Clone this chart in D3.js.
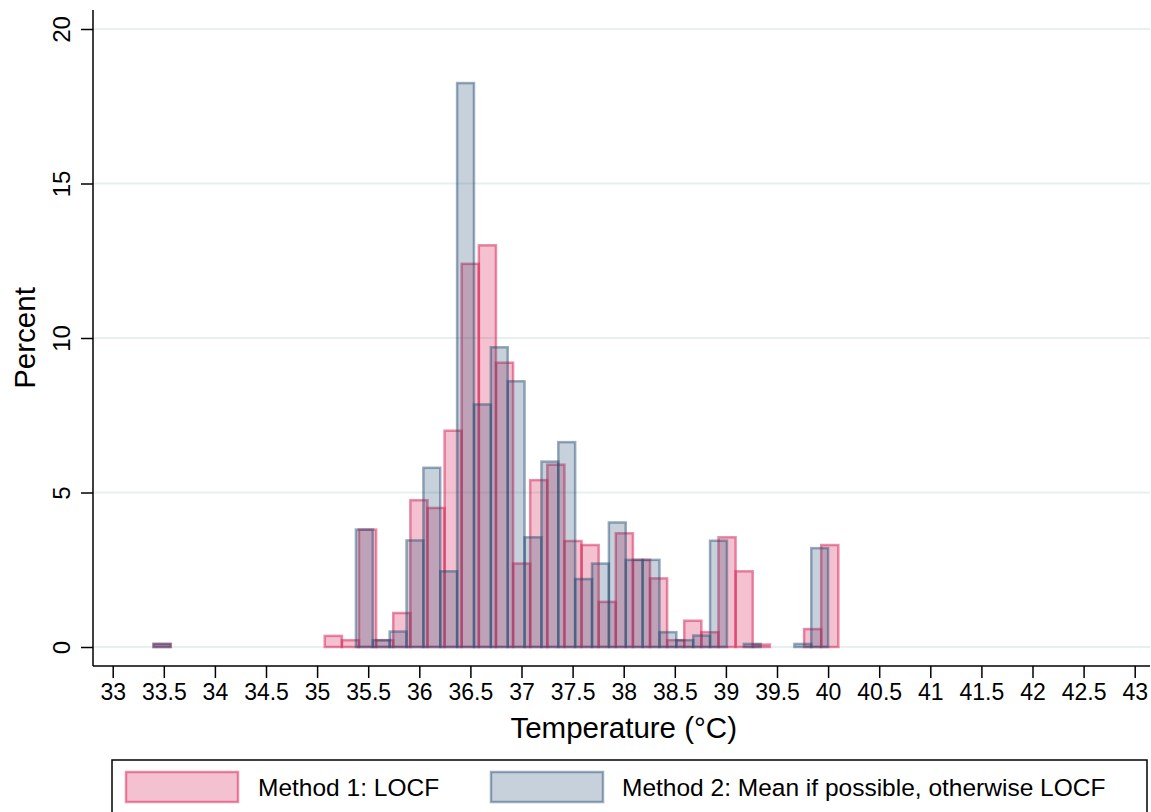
<!DOCTYPE html>
<html>
<head>
<meta charset="utf-8">
<script src="https://cdn.jsdelivr.net/npm/d3@7"></script>
<style>
  html, body { margin: 0; padding: 0; background: #fff; }
  svg { display: block; font-family: "Liberation Sans", Arial, Helvetica, sans-serif; }
</style>
</head>
<body>
<svg id="chart" width="1151" height="812"></svg>
<script>
// ---- data ----
const seriesNames = ["Method 1: LOCF", "Method 2: Mean if possible, otherwise LOCF"];
const binStart = 33.4;
const method1BinWidth = 0.1675;
const method2BinWidth = 0.165;
const method1Percent = [0.1, 0, 0, 0, 0, 0, 0, 0, 0, 0,
  0.36, 0.22, 3.8, 0.22, 1.1, 4.75, 4.5, 7.0, 12.4, 13.0,
  9.2, 2.7, 5.4, 5.9, 3.43, 3.3, 1.46, 3.68, 2.82, 2.22,
  0.22, 0.85, 0.48, 3.55, 2.45, 0.08, 0, 0, 0.58, 3.3];
const method2Percent = [0.1, 0, 0, 0, 0, 0, 0, 0, 0, 0,
  0, 0, 3.8, 0.22, 0.5, 3.45, 5.8, 2.45, 18.25, 7.85,
  9.7, 8.6, 3.55, 6.0, 6.63, 2.2, 2.7, 4.03, 2.82, 2.82,
  0.48, 0.22, 0.37, 3.44, 0, 0.1, 0, 0, 0.1, 3.2];
const xTicks = [33, 33.5, 34, 34.5, 35, 35.5, 36, 36.5, 37, 37.5, 38, 38.5, 39, 39.5, 40, 40.5, 41, 41.5, 42, 42.5, 43];
const yTicks = [0, 5, 10, 15, 20];
const xTitle = "Temperature (°C)";
const yTitle = "Percent";

// ---- styles ----
const fills = ["rgba(214,40,90,0.29)", "rgba(30,70,110,0.25)"];
const strokes = ["rgba(214,40,90,0.52)", "rgba(30,70,110,0.45)"];
const FONT = "Liberation Sans, Arial, sans-serif";

const svg = d3.select("#chart");
const x = d3.scaleLinear().domain([33, 43]).range([112.7, 1134.7]);
const y = d3.scaleLinear().domain([0, 20]).range([647, 29]);

const axisLeftX = 93, axisBottomY = 666;

// grid lines
svg.append("g").selectAll("line").data(yTicks).join("line")
  .attr("x1", axisLeftX).attr("x2", 1150)
  .attr("y1", d => y(d)).attr("y2", d => y(d))
  .attr("stroke", "#e7efef").attr("stroke-width", 2);

// bars
function bins(values, width) {
  return values.map((v, i) => ({ x0: binStart + i * width, x1: binStart + (i + 1) * width, v }))
    .filter(d => d.v > 0);
}
const series = [bins(method1Percent, method1BinWidth), bins(method2Percent, method2BinWidth)];
series.forEach((data, si) => {
  svg.append("g").selectAll("rect").data(data).join("rect")
    .attr("x", d => x(d.x0))
    .attr("width", d => x(d.x1) - x(d.x0))
    .attr("y", d => y(d.v))
    .attr("height", d => y(0) - y(d.v))
    .attr("fill", fills[si])
    .attr("stroke", strokes[si])
    .attr("stroke-width", 2.5);
});

// axes
const xAxis = d3.axisBottom(x).tickValues(xTicks).tickSize(12).tickPadding(6)
  .tickFormat(d => String(d));
const gx = svg.append("g").attr("transform", `translate(0,${axisBottomY})`).call(xAxis);
gx.select(".domain").attr("d", `M${axisLeftX},0H1150`).attr("stroke", "#000").attr("stroke-width", 1.5);
gx.selectAll(".tick line").attr("stroke", "#000").attr("stroke-width", 1.5);
gx.selectAll(".tick text").attr("font-size", 23).attr("fill", "#000").attr("font-family", FONT);

const yAxis = d3.axisLeft(y).tickValues(yTicks).tickSize(12).tickPadding(8);
const gy = svg.append("g").attr("transform", `translate(${axisLeftX},0)`).call(yAxis);
gy.select(".domain").attr("d", `M0,10V${axisBottomY}`).attr("stroke", "#000").attr("stroke-width", 1.5);
gy.selectAll(".tick line").attr("stroke", "#000").attr("stroke-width", 1.5);
gy.selectAll(".tick text")
  .attr("font-size", 24).attr("fill", "#000").attr("font-family", FONT)
  .attr("text-anchor", "middle")
  .attr("transform", "translate(-31,0) rotate(-90)")
  .attr("x", 0).attr("y", 0).attr("dy", "0.35em");

// titles
svg.append("text").attr("x", x(38)).attr("y", 738).attr("text-anchor", "middle")
  .attr("font-size", 29.5).attr("fill", "#000").attr("font-family", FONT).text(xTitle);
svg.append("text").attr("transform", `translate(35,338) rotate(-90)`).attr("text-anchor", "middle")
  .attr("font-size", 29.5).attr("fill", "#000").attr("font-family", FONT).text(yTitle);

// legend
const lg = svg.append("g");
lg.append("rect").attr("x", 112).attr("y", 760).attr("width", 1035).attr("height", 70)
  .attr("fill", "#fff").attr("stroke", "#000").attr("stroke-width", 1.5);
const legendItems = [{ kx: 126, tx: 258 }, { kx: 491, tx: 622 }];
legendItems.forEach((it, i) => {
  lg.append("rect").attr("x", it.kx).attr("y", 772).attr("width", 112).attr("height", 30)
    .attr("fill", fills[i]).attr("stroke", strokes[i]).attr("stroke-width", 2.5);
  lg.append("text").attr("x", it.tx).attr("y", 796).attr("font-size", 24.5).attr("fill", "#000")
    .attr("font-family", FONT).text(seriesNames[i]);
});
</script>
</body>
</html>
